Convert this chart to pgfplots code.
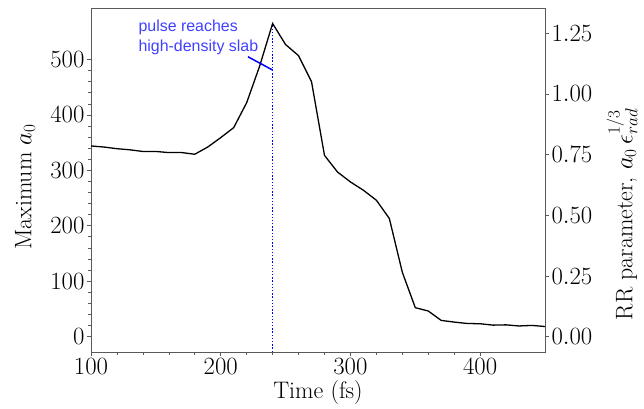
\documentclass[border=0pt]{standalone}
\usepackage{pgfplots}
\pgfplotsset{compat=1.18}
\usepackage{fontspec}
\newfontfamily\annfont{Liberation Sans}
\begin{document}
\begin{tikzpicture}
\pgfplotsset{
  every axis/.append style={
    scale only axis, width=454bp, height=344bp,
    xmin=100, xmax=450,
    axis line style={black!65, line width=0.8pt},
    tick style={black!65, line width=0.6pt},
    major tick length=4bp, minor tick length=2.5bp,
    tick align=outside,
    tick label style={font=\fontsize{24}{26}\selectfont},
    label style={font=\fontsize{24}{26}\selectfont},
  }
}
\begin{axis}[
  ymin=-28, ymax=593,
  xtick={100,200,300,400}, minor x tick num=4,
  ytick={0,100,200,300,400,500}, minor y tick num=4,
  xtick pos=bottom, ytick pos=left,
  xticklabel style={yshift=1bp},
  yticklabel style={xshift=1bp},
  xlabel={Time (fs)}, ylabel={Maximum $a_0$},
  xlabel style={at={(rel axis cs:0.5,0)}, anchor=center, yshift=-41bp},
  ylabel style={at={(rel axis cs:0,0.48)}, anchor=center, yshift=66bp},
  clip=false,
]
\coordinate (bl) at (rel axis cs:0,0);
\coordinate (tr) at (rel axis cs:1,1);
\addplot[blue, dash pattern={on 1.4pt off 1.8pt}, line width=1.6pt] coordinates {(240,-28) (240,565)};
\addplot[black, line width=1.3pt] coordinates {
(100,344) (110,342) (120,339) (130,337) (140,334) (150,334) (160,332) (170,332)
(180,329) (190,342) (200,359) (210,377) (220,422) (230,488) (240,565)
(250,527) (260,507) (270,460) (280,327) (290,297) (300,279) (310,264)
(320,246) (330,213) (340,116) (350,52) (360,46) (370,29) (380,26) (390,23.5)
(400,23) (410,20.5) (420,21) (430,19) (440,20) (450,18)};
\addplot[blue, line width=1.5pt] coordinates {(221,505) (240,481)};
\node[anchor=base west, text=blue!75!white, inner sep=0pt, font=\annfont\fontsize{16}{18}\selectfont] at (axis cs:136.5,550) {pulse reaches};
\node[anchor=base west, text=blue!75!white, inner sep=0pt, font=\annfont\fontsize{16}{18}\selectfont] at (axis cs:136.5,514) {high-density slab};
\end{axis}
\begin{axis}[
  axis y line*=right, axis x line=none,
  ymin=-0.063, ymax=1.354,
  ytick={0,0.25,0.5,0.75,1.0,1.25},
  yticklabel style={xshift=-1bp, /pgf/number format/.cd, fixed, fixed zerofill, precision=2},
  ylabel={RR parameter, $a_0\,\epsilon_{rad}^{1/3}$},
  ylabel style={at={(rel axis cs:1,0.40)}, anchor=center, yshift=-77bp},
]
\end{axis}
\pgfresetboundingbox
\path ([shift={(-91bp,-57bp)}]bl) rectangle ([shift={(99bp,8bp)}]tr);
\end{tikzpicture}
\end{document}
